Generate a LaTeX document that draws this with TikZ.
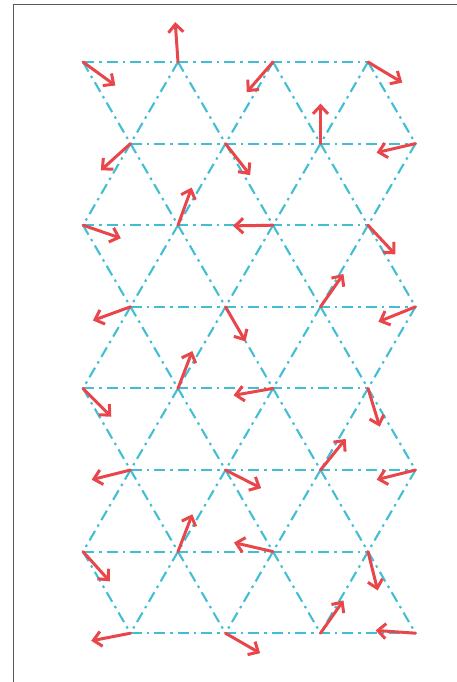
\documentclass[tikz,border=0pt]{standalone}
\usetikzlibrary{arrows.meta}
\definecolor{latC}{RGB}{66,190,212}
\definecolor{spinR}{RGB}{232,70,74}
\tikzset{bond/.style={latC, line width=2.1pt, dash pattern=on 11pt off 5pt on 2.5pt off 5pt},
  spin/.style={spinR, line width=3pt, line cap=round, -{Straight Barb[length=8pt,width=15pt]}}}

\begin{document}
\begin{tikzpicture}[x=1pt,y=-1pt]
\useasboundingbox (0,0) rectangle (457,682);
% frame
\draw[black!65, line width=1pt] (13.5,682) -- (13.5,4.5) -- (457,4.5);
% lattice sites, odd rows shifted by half a bond
\foreach \r in {0,...,7}{
  \pgfmathsetmacro\xo{83+47.5*mod(\r,2)}
  \foreach \k in {0,...,3}
    \coordinate (v\r-\k) at ({\xo+95*\k},{62+81.6*\r});
}
% horizontal bonds
\foreach \r in {0,...,7}
  \draw[bond] (v\r-0) -- (v\r-3);
% slanted bonds: even rows down to the row below
\foreach \r in {0,2,4,6}{
  \pgfmathtruncatemacro\s{\r+1}
  \foreach \k in {0,...,3}
    \draw[bond] (v\r-\k) -- (v\s-\k);
  \foreach \k in {1,2,3}{
    \pgfmathtruncatemacro\j{\k-1}
    \draw[bond] (v\r-\k) -- (v\s-\j);
  }
}
% slanted bonds: odd rows down to the row below
\foreach \r in {1,3,5}{
  \pgfmathtruncatemacro\s{\r+1}
  \foreach \k in {0,...,3}
    \draw[bond] (v\r-\k) -- (v\s-\k);
  \foreach \k in {0,1,2}{
    \pgfmathtruncatemacro\j{\k+1}
    \draw[bond] (v\r-\k) -- (v\s-\j);
  }
}
% spins (angles measured clockwise on the page)
\foreach \r/\angs in {0/{36,-94,131,31}, 1/{138,52,-90,167},
    2/{19,-70,179,47}, 3/{160,60,-55,158}, 4/{45,-69,170,73},
    5/{166,27,-51,166}, 6/{48,-69,-167,76}, 7/{169,30,-55,-176}}{
  \foreach \a [count=\k from 0] in \angs
    \draw[spin] (v\r-\k) -- ++(\a:40);
}
\end{tikzpicture}
\end{document}
